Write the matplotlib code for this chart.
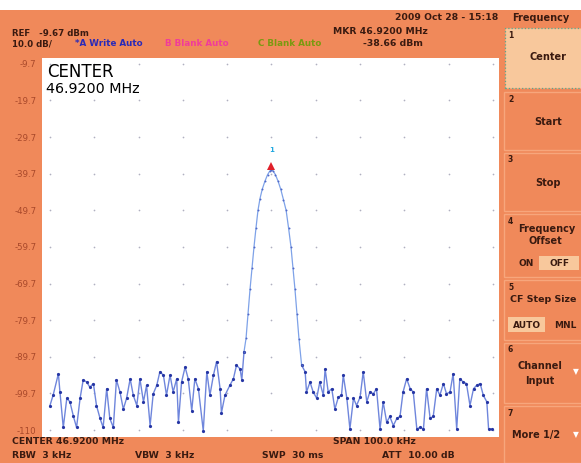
import numpy as np
import matplotlib
matplotlib.use("Agg")
import matplotlib.pyplot as plt
from matplotlib.patches import Rectangle

# trace readings: offset from centre (kHz) and level (dBm)
left_khz = [-50.0, -49.25, -48.1, -47.75, -47.0, -46.2, -45.5, -44.7, -44.0, -43.2,
            -42.5, -41.7, -41.0, -40.2, -39.5, -38.7, -38.0, -37.2, -36.5, -35.7,
            -35.0, -34.2, -33.45, -32.7, -31.9, -31.2, -30.4, -29.7, -28.9, -28.2,
            -27.4, -26.7, -25.9, -25.2, -24.4, -23.7, -22.9, -22.2, -21.4, -21.0,
            -20.3, -19.5, -18.8, -18.0, -17.3, -16.5, -15.4, -14.6, -13.9, -13.1,
            -12.4, -11.6, -11.3, -10.5, -9.4, -8.6, -7.9, -7.1, -6.7, -6.2]
left_dbm = [-103, -100, -94.3, -99.3, -109, -101, -102, -106, -109, -101,
            -96, -96.6, -98, -97, -103, -106.5, -109, -98.4, -106.5, -109,
            -96, -99.3, -104, -101, -95.7, -100.2, -103, -95.7, -102, -97.5,
            -108.5, -99.8, -97.5, -93.8, -94.7, -100.2, -94.7, -99.3, -95.7, -107.6,
            -96.6, -92.5, -95.7, -104.4, -95.7, -98.4, -109.9, -93.8, -100.2, -94.7,
            -91, -98.4, -105, -100.2, -97.5, -95.7, -92, -93, -96, -88.3]

peak_khz = [-6.2, -5.75, -5.3, -4.85, -4.4, -3.95, -3.5, -3.05, -2.6, -2.1, -1.5, -0.9, -0.4,
            0.0, 0.4, 0.9, 1.5, 2.1, 2.7, 3.3, 3.85, 4.4, 4.85, 5.3, 5.75, 6.2, 6.8]
peak_dbm = [-88.3, -84.7, -78, -71.3, -65.5, -59.7, -54.5, -49.7, -46.5, -44.0, -41.8, -40.0, -39.0,
            -38.66, -39.0, -40.0, -41.8, -44.0, -46.8, -49.7, -54.5, -59.7, -65.5, -71.3, -78, -84.8,
            -92]

right_khz = [6.8, 7.6, 7.9, 8.7, 9.4, 10.2, 10.9, 11.7, 12.1, 12.8,
             13.6, 14.3, 15.1, 15.8, 16.2, 17.0, 17.7, 18.5, 19.2, 20.0,
             20.7, 21.5, 22.2, 23.0, 23.7, 24.5, 25.2, 26.0, 26.7, 27.5,
             28.3, 29.0, 29.7, 30.5, 31.3, 32.0, 32.8, 33.5, 34.3, 35.0,
             35.8, 36.5, 37.3, 38.0, 38.8, 39.5, 40.3, 41.0, 41.8, 42.5,
             43.3, 44.0, 44.8, 45.6, 46.3, 47.1, 47.8, 48.6, 49.0, 49.7]
right_dbm = [-92, -93.8, -99.3, -96.6, -99.3, -101, -96.6, -100.2, -93, -99.3,
             -98.4, -104, -100.7, -100.2, -94.7, -101, -109.4, -101, -103, -100.7,
             -93.8, -102, -99.3, -99.8, -98.4, -109.4, -102, -107.6, -106, -108.5,
             -106.5, -106, -99.3, -95.7, -98.4, -99.3, -109.4, -109, -109.4, -98.4,
             -106.5, -106, -98.4, -100.2, -97, -99.8, -99.3, -94.3, -109.4, -95.7,
             -96.6, -97, -103, -98.4, -97.5, -97, -100.2, -102, -109.4, -109.4]

marker_khz = 0.0
marker_dbm = -38.66

ref_level = -9.7
db_per_div = 10.0
ylabels = ["-9.7", "-19.7", "-29.7", "-39.7", "-49.7", "-59.7",
           "-69.7", "-79.7", "-89.7", "-99.7", "-110"]

W, H = 581, 463
ORANGE = "#f0895a"
LIGHT = "#f8c89c"
EDGE = "#f7a67c"
INK = "#3a1a10"

fig = plt.figure(figsize=(W / 100, H / 100), dpi=100, facecolor=ORANGE)


def fx(x):
    return x / W


def fy(y):
    return 1 - y / H


def label(x, y, s, size=6.7, color=INK, ha="left", weight="bold", **kw):
    fig.text(fx(x), fy(y), s, fontsize=size, color=color, ha=ha, va="center",
             weight=weight, **kw)


def box(x0, y0, x1, y1, fc, ec="none", ls="-", lw=0.8):
    fig.add_artist(Rectangle((fx(x0), fy(y1)), (x1 - x0) / W, (y1 - y0) / H,
                             transform=fig.transFigure, fc=fc, ec=ec, ls=ls, lw=lw))


# white photo border on top
box(0, 0, W, 10, "white")

# plot window
ax = fig.add_axes([fx(42), fy(437), (499 - 42) / W, (437 - 58) / H])
ax.set_facecolor("white")
ax.set_xlim(-51.8, 51.35)
ax.set_ylim(-111.6, -8.1)
for s in ax.spines.values():
    s.set_visible(False)

yt = ref_level - db_per_div * np.arange(len(ylabels))
xt = np.arange(-50, 51, 10)
gx, gy = np.meshgrid(xt, yt)
ax.scatter(gx.ravel(), gy.ravel(), s=1.5, color="#b0b0c0", lw=0, zorder=1)

ax.set_xticks([])
ax.set_yticks(yt)
ax.set_yticklabels(ylabels)
ax.tick_params(axis="y", length=0, pad=4, labelsize=6.2, labelcolor="#a8482a")

for fk, lv in [(left_khz, left_dbm), (right_khz, right_dbm)]:
    ax.plot(fk, lv, color="#6f86dc", lw=1.0, zorder=2)
    ax.plot(fk, lv, ls="none", marker="o", ms=2.3, mew=0, color="#2636a4", zorder=3)
ax.plot(peak_khz, peak_dbm, color="#7ea2e8", lw=0.9, zorder=2)
ax.plot(peak_khz, peak_dbm, ls="none", marker="o", ms=1.4, mew=0, color="#5068c8", zorder=3)
ax.plot([marker_khz], [marker_dbm + 1.0], marker="^", ms=5.5, color="#e0202a", mew=0, zorder=4)
ax.text(marker_khz, marker_dbm + 4.5, "1", color="#20a8e0", fontsize=5, ha="center",
        va="bottom", weight="bold")

label(47, 72, "CENTER", size=12, color="black", weight="normal")
label(46, 89, "46.9200 MHz", size=10.3, color="black", weight="normal")

# header
label(12, 33, "REF   -9.67 dBm", size=6.2)
label(12, 44, "10.0 dB/", size=6.2)
label(75, 44, "*A Write Auto", size=6.3, color="#2a2ab8")
label(165, 44, "B Blank Auto", size=6.3, color="#f03c9a")
label(258, 44, "C Blank Auto", size=6.3, color="#7a9a10")
label(498, 18, "2009 Oct 28 - 15:18", ha="right")
label(512, 18, "Frequency", size=7)
label(428, 31, "MKR 46.9200 MHz", ha="right")
label(423, 44, "-38.66 dBm", ha="right")

# footer
label(12, 442, "CENTER 46.9200 MHz")
label(333, 442, "SPAN 100.0 kHz")
label(12, 456, "RBW  3 kHz")
label(135, 456, "VBW  3 kHz")
label(262, 456, "SWP  30 ms")
label(382, 456, "ATT  10.00 dB")

# soft-key panel
keys = [(28, 88), (92, 150), (153, 211), (214, 277), (280, 340), (343, 403), (406, 463)]
for i, (y0, y1) in enumerate(keys):
    if i == 0:
        box(505, y0, 583, y1, LIGHT, ec="#5aa890", ls=":", lw=0.9)
    else:
        box(504, y0, 583, y1, ORANGE, ec=EDGE, lw=1.0)
    label(508, y0 + 7, str(i + 1), size=5.5)

label(548, 57, "Center", size=7, ha="center")
label(548, 122, "Start", size=7, ha="center")
label(548, 183, "Stop", size=7, ha="center")
label(547, 229, "Frequency", size=7, ha="center")
label(545, 241, "Offset", size=7, ha="center")
box(539, 256, 579, 270, LIGHT)
label(526, 263, "ON", size=6.5, ha="center")
label(560, 263, "OFF", size=6.5, ha="center")
label(510, 300, "CF Step Size", size=6.8)
box(508, 317, 545, 332, LIGHT)
label(527, 325, "AUTO", size=6.5, ha="center")
label(565, 325, "MNL", size=6.5, ha="center")
label(540, 366, "Channel", size=7, ha="center")
label(540, 381, "Input", size=7, ha="center")
label(536, 435, "More 1/2", size=7, ha="center")
fig.text(fx(576), fy(372), "\u25bc", fontsize=5.5, color="white", ha="center", va="center")
fig.text(fx(576), fy(435), "\u25bc", fontsize=5.5, color="white", ha="center", va="center")

fig.savefig("out.png", dpi=100, facecolor=ORANGE)
